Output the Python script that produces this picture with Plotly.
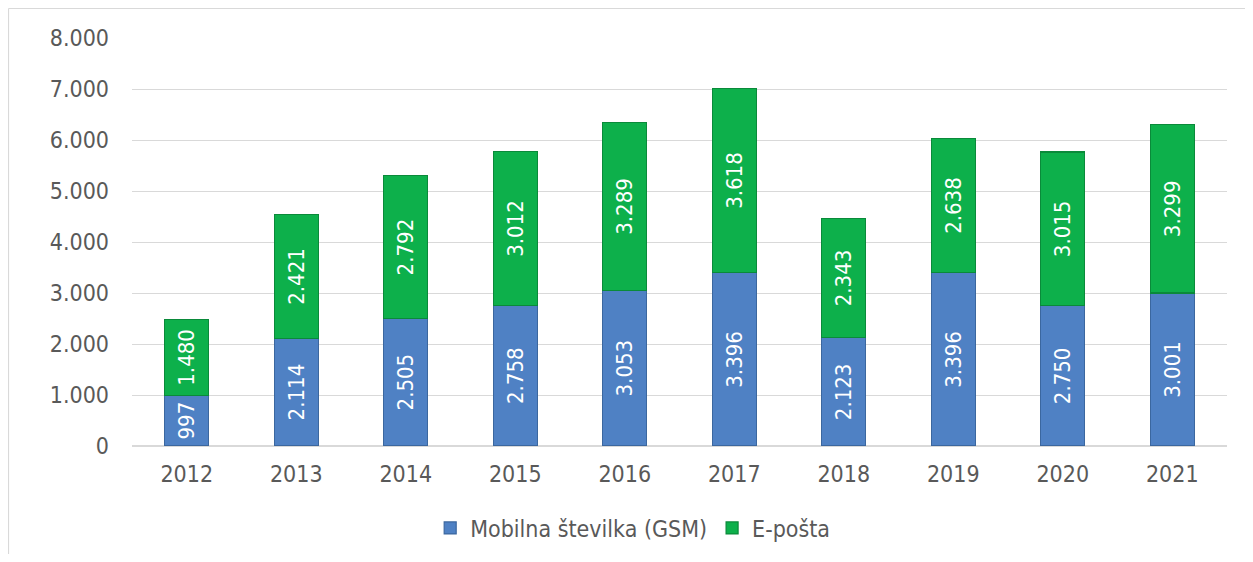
import plotly.graph_objects as go

years = ["2012", "2013", "2014", "2015", "2016", "2017", "2018", "2019", "2020", "2021"]
gsm = [997, 2114, 2505, 2758, 3053, 3396, 2123, 3396, 2750, 3001]
email = [1480, 2421, 2792, 3012, 3289, 3618, 2343, 2638, 3015, 3299]
tick_vals = [0, 1000, 2000, 3000, 4000, 5000, 6000, 7000, 8000]
tick_text = ["0", "1.000", "2.000", "3.000", "4.000", "5.000", "6.000", "7.000", "8.000"]

def fmt(v):
    return f"{v:,}".replace(",", ".")

FONT = "DejaVu Sans Condensed, DejaVu Sans"
GREY = "#595959"
fig = go.Figure()
fig.add_bar(
    x=years, y=gsm, name="Mobilna številka (GSM)",
    marker=dict(color="#4F81C4", line=dict(color="#3B679F", width=1.2)),
    text=[fmt(v) for v in gsm], textposition="inside", textangle=-90,
    insidetextanchor="middle",
    textfont=dict(color="white", size=22, family=FONT),
)
fig.add_bar(
    x=years, y=email, name="E-pošta",
    marker=dict(color="#0DB04B", line=dict(color="#0A8A3A", width=1.2)),
    text=[fmt(v) for v in email], textposition="inside", textangle=-90,
    insidetextanchor="middle",
    textfont=dict(color="white", size=22, family=FONT),
)
W, H = 1237, 546
L, R, T, B = 124, 18, 30, 108
pw, ph = W - L - R, H - T - B
fig.update_layout(
    barmode="stack", bargap=0.6,
    width=W, height=H,
    margin=dict(l=L, r=R, t=T, b=B),
    paper_bgcolor="white", plot_bgcolor="white",
    font=dict(family=FONT, size=22, color=GREY),
    uniformtext=dict(mode="show", minsize=10),
    showlegend=True,
    legend=dict(orientation="h", xref="container", yref="container",
                x=0.505, xanchor="center", y=(H - 520) / H, yanchor="middle",
                font=dict(size=23, color=GREY, family=FONT), traceorder="normal",
                itemwidth=30, tracegroupgap=0),
    xaxis=dict(showgrid=False, showline=False, ticks="", tickfont=dict(size=23),
               ticklabelstandoff=12),
    yaxis=dict(range=[0, 8000], tickvals=tick_vals, ticktext=tick_text,
               showgrid=True, gridcolor="#D9D9D9", gridwidth=1.2,
               zeroline=True, zerolinecolor="#D9D9D9", showline=False,
               ticks="", tickfont=dict(size=23), ticklabelstandoff=22),
    shapes=[
        dict(type="line", xref="paper", yref="paper",
             x0=-(L - 0.5) / pw, x1=1 + R / pw, y0=1 + (T - 0.5) / ph, y1=1 + (T - 0.5) / ph,
             line=dict(color="#D9D9D9", width=1.2)),
        dict(type="line", xref="paper", yref="paper",
             x0=-(L - 0.5) / pw, x1=-(L - 0.5) / pw, y0=-B / ph, y1=1 + (T - 0.5) / ph,
             line=dict(color="#D9D9D9", width=1.2)),
    ],
)
fig.write_html("out.html")
